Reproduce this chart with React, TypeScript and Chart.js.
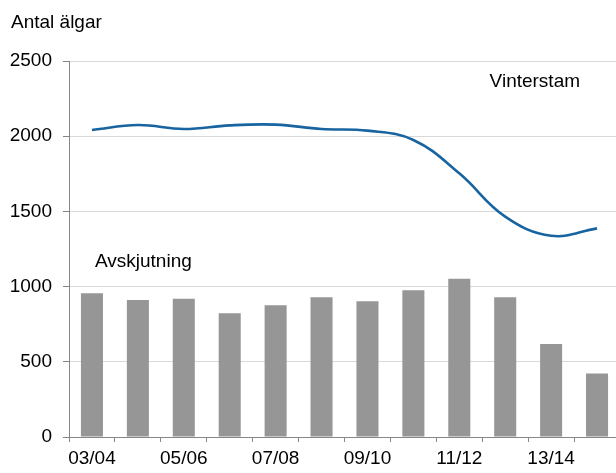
import React, { useEffect, useRef } from "react";
import { Chart, registerables } from "chart.js";

Chart.register(...registerables);

const categories = ["03/04", "04/05", "05/06", "06/07", "07/08", "08/09", "09/10", "10/11", "11/12", "12/13", "13/14", "14/15"];
const avskjutning = [955, 911, 920, 822, 876, 929, 902, 975, 1053, 929, 618, 423];
const vinterstam = [2041, 2074, 2048, 2072, 2077, 2048, 2037, 1975, 1753, 1465, 1338, 1387];
const yTicks = [0, 500, 1000, 1500, 2000, 2500];

const FONT = "'Liberation Sans', Arial, sans-serif";

export default function App() {
  const ref = useRef<HTMLCanvasElement | null>(null);

  useEffect(() => {
    if (!ref.current) return;
    const textPlugin = {
      id: "texts",
      afterDraw(chart: any) {
        const ctx = chart.ctx;
        const xs = chart.scales.x;
        const ys = chart.scales.y;
        ctx.save();
        ctx.fillStyle = "#000";
        ctx.font = `19px ${FONT}`;
        ctx.textBaseline = "alphabetic";
        ctx.textAlign = "left";
        ctx.fillText("Antal älgar", 11, 28);
        ctx.fillText("Avskjutning", xs.getPixelForValue(0) + 3, ys.getPixelForValue(1130));
        ctx.textAlign = "right";
        ctx.fillText("Vinterstam", xs.getPixelForValue(11) - 17, ys.getPixelForValue(2330));
        ctx.restore();
      },
    };
    const chart = new Chart(ref.current, {
      type: "bar",
      data: {
        labels: categories,
        datasets: [
          {
            type: "line",
            label: "Vinterstam",
            data: vinterstam,
            borderColor: "#1764a0",
            borderWidth: 2.6,
            pointRadius: 0,
            tension: 0.4,
            fill: false,
          } as any,
          {
            type: "bar",
            label: "Avskjutning",
            data: avskjutning,
            backgroundColor: "#969696",
            borderWidth: 0,
            barPercentage: 0.48,
            categoryPercentage: 1,
          },
        ],
      },
      plugins: [textPlugin],
      options: {
        responsive: false,
        animation: false,
        layout: { padding: { top: 61, left: 0, right: 0, bottom: 0 } },
        plugins: {
          legend: { display: false },
          tooltip: { enabled: false },
          title: { display: false },
        },
        scales: {
          x: {
            offset: true,
            grid: {
              offset: true,
              drawOnChartArea: false,
              drawTicks: true,
              tickLength: 5,
              tickColor: "#868686",
            },
            border: { color: "#868686", width: 1 },
            ticks: {
              autoSkip: false,
              maxRotation: 0,
              padding: 5,
              color: "#000",
              font: { family: FONT, size: 19 },
              callback: (_v: any, i: number) => (i % 2 === 0 ? categories[i] : ""),
            },
            afterFit: (s: any) => {
              s.height = 36;
            },
          },
          y: {
            min: 0,
            max: 2500,
            afterBuildTicks: (s: any) => {
              s.ticks = yTicks.map((v) => ({ value: v }));
            },
            grid: {
              color: "#d9d9d9",
              lineWidth: 1,
              drawTicks: true,
              tickLength: 6,
              tickColor: "#868686",
            },
            border: { color: "#868686", width: 1 },
            ticks: {
              padding: 11,
              color: "#000",
              font: { family: FONT, size: 19 },
              callback: (v: any) => String(v),
            },
            afterFit: (s: any) => {
              s.width = 69;
            },
          },
        },
      },
    });
    return () => chart.destroy();
  }, []);

  return (
    <div style={{ position: "fixed", left: 0, top: 0, width: 616, height: 473, overflow: "hidden", background: "#fff" }}>
      <canvas ref={ref} width={620} height={473} style={{ display: "block" }} />
    </div>
  );
}
